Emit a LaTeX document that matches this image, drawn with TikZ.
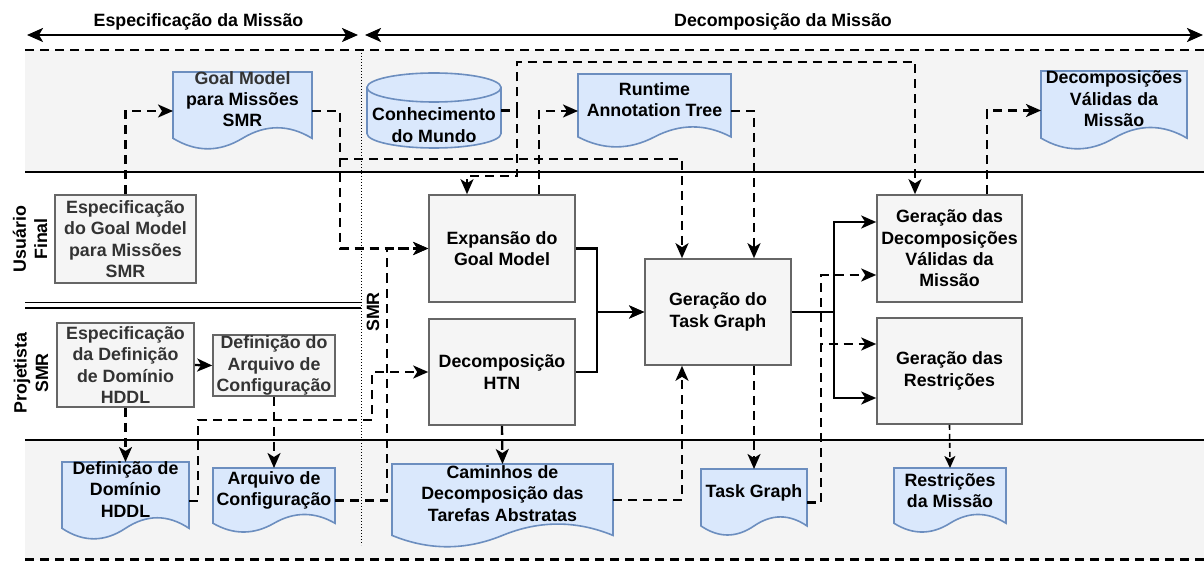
\documentclass[tikz,border=0pt]{standalone}
\usepackage{fontspec}
\setmainfont{Liberation Sans}
\usetikzlibrary{arrows.meta,calc}
\definecolor{bandgray}{HTML}{F4F4F4}
\definecolor{boxfill}{HTML}{F5F5F5}
\definecolor{boxline}{HTML}{666666}
\definecolor{docfill}{HTML}{DAE8FC}
\definecolor{docline}{HTML}{6C8EBF}
\definecolor{txtgray}{HTML}{333333}

\tikzset{
  lbl/.style={font=\fontsize{17.8}{21.3}\selectfont\bfseries, align=center, inner sep=0pt},
  proc/.style={lbl, rectangle, fill=boxfill, draw=boxline, line width=1.6pt},
  docanchor/.style={rectangle, draw=none, inner sep=0pt, outer sep=0pt},
  docpath/.style={fill=docfill, draw=docline, line width=1.6pt},
  tipbig/.style={-{Stealth[length=15pt,width=13pt,inset=4pt]}},
  flow/.style={line width=2.3pt, dash pattern=on 9pt off 6pt, tipbig},
  thinflow/.style={line width=1.6pt, dash pattern=on 5pt off 4pt, -{Stealth[length=12pt,width=11pt,inset=3pt]}},
  solidflow/.style={line width=2.3pt, tipbig},
  borderdash/.style={line width=2.3pt, dash pattern=on 9pt off 6pt},
  lanerule/.style={line width=2.3pt},
  headtip/.tip={Stealth[length=16pt,width=14pt,inset=4pt]},
}

% document shape with a wavy bottom: name, left x, top y, width, height, text
\newcommand{\docshape}[6]{%
  \pgfmathsetmacro{\dsxr}{#2+#4}%
  \pgfmathsetmacro{\dsys}{#3+0.85*#5}%
  \pgfmathsetmacro{\dsxm}{#2+0.5*#4}%
  \pgfmathsetmacro{\dsxa}{#2+0.8333*#4}%
  \pgfmathsetmacro{\dsxb}{#2+0.6667*#4}%
  \pgfmathsetmacro{\dsxc}{#2+0.3333*#4}%
  \pgfmathsetmacro{\dsxd}{#2+0.1667*#4}%
  \pgfmathsetmacro{\dsyu}{#3+0.67*#5}%
  \pgfmathsetmacro{\dsyd}{#3+1.03*#5}%
  \pgfmathsetmacro{\dscy}{#3+0.5*#5}%
  \pgfmathsetmacro{\dsly}{#3+0.35*#5}%
  \draw[docpath] (#2,#3) -- (\dsxr,#3) -- (\dsxr,\dsys)
     .. controls (\dsxa,\dsyu) and (\dsxb,\dsyu) .. (\dsxm,\dsys)
     .. controls (\dsxc,\dsyd) and (\dsxd,\dsyd) .. (#2,\dsys) -- cycle;
  \node[docanchor, minimum width=#4, minimum height=#5] (#1) at (\dsxm,\dscy) {};
  \node[lbl] (#1-text) at (\dsxm,\dsly) {#6};
}

\begin{document}
\begin{tikzpicture}[x=1pt,y=-1pt]
\useasboundingbox (0,0) rectangle (1204,561);

% swimlane bands
\fill[bandgray] (25,50) rectangle (1204,172);
\fill[bandgray] (25,440) rectangle (1204,560);
\draw[borderdash] (25,50) -- (1204,50);
\draw[lanerule] (25,172) -- (1204,172);
\draw[lanerule] (25,440) -- (1204,440);
\draw[borderdash] (25,559.5) -- (1204,559.5);
\draw[line width=1.5pt] (25,302.5) -- (361,302.5);
\draw[line width=1.5pt] (25,308) -- (361,308);
\draw[line width=1pt, dash pattern=on 1pt off 2pt] (361,50) -- (361,545);

% phase headers
\coordinate (specL) at (27,35);
\coordinate (specR) at (358,35);
\coordinate (decoL) at (365,35);
\coordinate (decoR) at (1203,35);
\draw[line width=2.3pt, headtip-headtip] (specL) -- (specR);
\draw[line width=2.3pt, headtip-headtip] (decoL) -- (decoR);
\node[lbl] (spec) at (198.5,22) {Especificação da Missão};
\node[lbl] (deco) at (783,22) {Decomposição da Missão};

% lane titles
\node[lbl, rotate=90] (laneuser) at (30,239) {Usuário\\Final};
\node[lbl, rotate=90] (laneproj) at (31,373) {Projetista\\SMR};
\node[lbl, rotate=90] (lanesmr) at (373,312) {SMR};

% process boxes
\node[proc, minimum width=141, minimum height=88, text=txtgray] (espgm) at (125.5,239) {Especificação\\do Goal Model\\para Missões\\SMR};
\node[proc, minimum width=137, minimum height=84, text=txtgray] (esphddl) at (125.5,365) {Especificação\\da Definição\\de Domínio\\HDDL};
\node[proc, minimum width=122, minimum height=61, text=txtgray] (defarq) at (274,365.5) {Definição do\\Arquivo de\\Configuração};
\node[proc, minimum width=146, minimum height=107] (expgm) at (502,248.5) {Expansão do\\Goal Model};
\node[proc, minimum width=146, minimum height=106] (htn) at (502,372) {Decomposição\\HTN};
\node[proc, minimum width=146, minimum height=106] (tgraph) at (718,312) {Geração do\\Task Graph};
\node[proc, minimum width=145, minimum height=107] (gerdec) at (949.5,248.5) {Geração das\\Decomposições\\Válidas da\\Missão};
\node[proc, minimum width=145, minimum height=106] (gerres) at (949.5,371) {Geração das\\Restrições};

% documents
\docshape{gmdoc}{173}{72}{139}{78}{\color{txtgray}Goal Model\\para Missões\\SMR}
\docshape{rat}{578}{74}{153}{74}{Runtime\\Annotation Tree}
\docshape{decval}{1041}{71}{146}{79}{Decomposições\\Válidas da\\Missão}
\docshape{ddhddl}{62}{462}{127}{78}{Definição de\\Domínio\\HDDL}
\docshape{arqcfg}{213}{468}{122}{65}{Arquivo de\\Configuração}
\docshape{caminhos}{392}{464}{221}{84}{Caminhos de\\Decomposição das\\Tarefas Abstratas}
\docshape{tgdoc}{701}{469}{106}{67}{Task Graph}
\docshape{restr}{894}{468}{112}{65}{Restrições\\da Missão}

% world knowledge store (cylinder)
\filldraw[docpath] (367,87.5) -- (367,133.5)
   .. controls (367,141.5) and (397,148) .. (434,148)
   .. controls (471,148) and (501,141.5) .. (501,133.5) -- (501,87.5) -- cycle;
\filldraw[docpath] (434,87.5) ellipse[x radius=67pt, y radius=14.5pt];
\node[docanchor, minimum width=134, minimum height=75] (cyl) at (434,110.5) {};
\node[lbl] (cyl-text) at (434,125) {Conhecimento\\do Mundo};

% data flows
\draw[flow] (espgm.north) |- (gmdoc.west);
\draw[flow] (gmdoc.east) -| (340,248.5) -- (expgm.west);
\draw[flow] (gmdoc.east) -| (340,159) -| ([xshift=-36pt]tgraph.north);
\draw[flow] (cyl.east) -| (517,62) -| ([xshift=-34.5pt]gerdec.north);
\draw[flow] (cyl.east) -| (517,176) -| ([xshift=-35pt]expgm.north);
\draw[flow] ([xshift=37pt]expgm.north) |- (rat.west);
\draw[flow] (rat.east) -| ([xshift=36pt]tgraph.north);
\draw[solidflow] (expgm.east) -- ++(21,0) |- (tgraph.west);
\draw[solidflow] (htn.east) -- ++(21,0) |- (tgraph.west);
\draw[solidflow] (tgraph.east) -- ++(42,0) |- ([yshift=26.5pt]gerdec.west);
\draw[solidflow] (tgraph.east) -- ++(42,0) |- ([yshift=-27pt]gerres.west);
\draw[flow] (tgdoc.east) -- ++(14,0) |- ([yshift=-26.5pt]gerdec.west);
\draw[flow] (tgdoc.east) -- ++(14,0) |- ([yshift=27pt]gerres.west);
\draw[flow] ([xshift=37.5pt]gerdec.north) |- (decval.west);
\draw[thinflow] (gerres.south) -- (restr.north);
\draw[flow] ([xshift=36pt]tgraph.south) -- (tgdoc.north);
\draw[flow] (htn.south) -- (caminhos.north);
\draw[flow] ([yshift=6pt]caminhos.east) -| ([xshift=-36pt]tgraph.south);
\draw[flow] (arqcfg.east) -- ++(52,0) |- (expgm.west);
\draw[flow] (ddhddl.east) -- ++(9,0) |- (372,420) |- (htn.west);
\draw[flow] (defarq.south) -- (arqcfg.north);
\draw[flow] (esphddl.south) -- (ddhddl.north);
\draw[solidflow] (esphddl.east) -- (defarq.west);
\end{tikzpicture}
\end{document}
